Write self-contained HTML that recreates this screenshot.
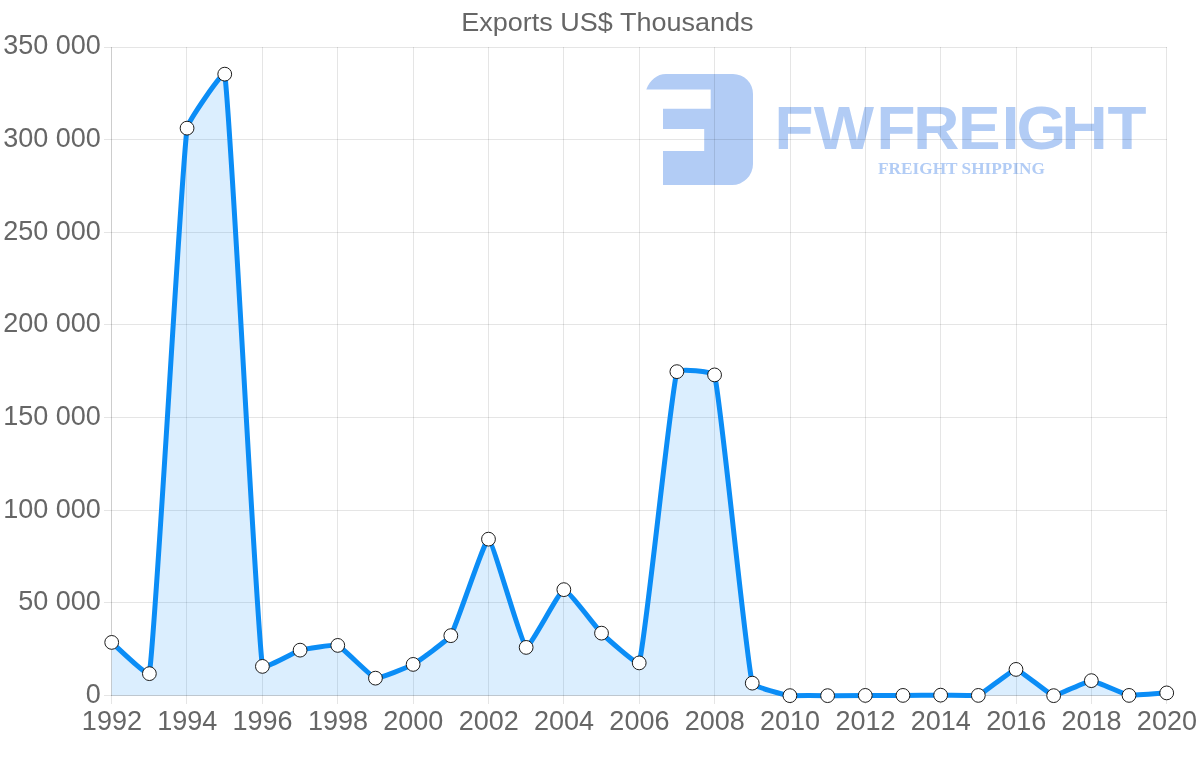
<!DOCTYPE html>
<html lang="en"><head><meta charset="utf-8"><title>Exports US$ Thousands</title>
<style>
html,body{margin:0;padding:0;background:#fff}
body{width:1200px;height:763px;overflow:hidden}
svg{display:block}
text{font-family:"Liberation Sans",Arial,Helvetica,sans-serif;fill:#666}
.wm{font-family:"Liberation Sans",Arial,sans-serif;font-weight:700;fill:#b2ccf5}
.wms{font-family:"Liberation Serif","Times New Roman",serif;font-weight:700;fill:#b2ccf5}
</style></head><body>
<svg width="1200" height="763" viewBox="0 0 1200 763">
<rect width="1200" height="763" fill="#fff"/>
<g id="wm" opacity="1">
<path fill="#b2ccf5" d="M646.3,89.4 C650,80 657,74 666,74 L733,74 A20,20 0 0 1 753,94 L753,164 A21,21 0 0 1 732,185 L663,185 L663,151 L704.2,151 L704.2,129 L663,129 L663,108.8 L710.7,108.8 L710.7,89.4 Z"/>
<text class="wm" transform="scale(1.03,1)" x="752 789.99 850.99 886.62 930.14 972.53 986.97 1030.64 1075.31" y="149.2" font-size="62">FWFREIGHT</text>
<text class="wms" x="878" y="174.3" font-size="17" textLength="167" lengthAdjust="spacingAndGlyphs">FREIGHT SHIPPING</text>
</g>
<g stroke="rgba(0,0,0,0.1)" stroke-width="1" shape-rendering="crispEdges"><line x1="103.5" y1="695.5" x2="1167" y2="695.5"/><line x1="103.5" y1="602.5" x2="1167" y2="602.5"/><line x1="103.5" y1="510.5" x2="1167" y2="510.5"/><line x1="103.5" y1="417.5" x2="1167" y2="417.5"/><line x1="103.5" y1="324.5" x2="1167" y2="324.5"/><line x1="103.5" y1="232.5" x2="1167" y2="232.5"/><line x1="103.5" y1="139.5" x2="1167" y2="139.5"/><line x1="103.5" y1="47.5" x2="1167" y2="47.5"/><line x1="111.5" y1="47" x2="111.5" y2="696"/><line x1="111" y1="695.5" x2="1167" y2="695.5"/></g>
<g stroke="rgba(0,0,0,0.1)" stroke-width="1" shape-rendering="crispEdges"><line x1="111.5" y1="47" x2="111.5" y2="703.7"/><line x1="186.5" y1="47" x2="186.5" y2="703.7"/><line x1="262.5" y1="47" x2="262.5" y2="703.7"/><line x1="337.5" y1="47" x2="337.5" y2="703.7"/><line x1="413.5" y1="47" x2="413.5" y2="703.7"/><line x1="488.5" y1="47" x2="488.5" y2="703.7"/><line x1="563.5" y1="47" x2="563.5" y2="703.7"/><line x1="639.5" y1="47" x2="639.5" y2="703.7"/><line x1="714.5" y1="47" x2="714.5" y2="703.7"/><line x1="790.5" y1="47" x2="790.5" y2="703.7"/><line x1="865.5" y1="47" x2="865.5" y2="703.7"/><line x1="940.5" y1="47" x2="940.5" y2="703.7"/><line x1="1016.5" y1="47" x2="1016.5" y2="703.7"/><line x1="1091.5" y1="47" x2="1091.5" y2="703.7"/><line x1="1166.5" y1="47" x2="1166.5" y2="703.7"/></g>
<path d="M111.7,642.4 C115.47,645.52 148.76,677.88 149.38,673.65 C156.3,626.45 180.33,181.66 187.06,128.15 C187.87,121.71 223.98,68.77 224.74,74.15 C231.52,122.6 255.37,612.53 262.41,666.4 C262.9,670.13 296.18,651.24 300.09,650.15 C303.71,649.14 334.52,644.19 337.77,645.4 C342.05,646.99 371.27,677.1 375.45,678.15 C378.81,679 409.67,666.35 413.13,664.4 C417.21,662.1 448.44,639.58 450.81,635.65 C455.98,627.06 484.91,538.59 488.49,539.15 C492.44,539.77 521.46,644.25 526.16,647.4 C528.99,649.3 559.74,590.43 563.84,589.65 C567.27,589 597.41,629.16 601.52,633.15 C604.95,636.48 638.14,666.57 639.2,662.9 C645.68,640.42 670.2,397.16 676.88,371.65 C677.74,368.36 713.74,371.52 714.56,374.9 C721.27,402.67 745.55,654.71 752.24,683.15 C753.09,686.79 786.05,695.01 789.91,695.65 C793.58,695.5 823.83,695.5 827.59,695.65 C831.36,695.5 861.5,695.41 865.27,695.4 C869.04,695.39 899.18,695.41 902.95,695.4 C906.72,695.39 936.86,695.15 940.63,695.15 C944.4,695.15 974.9,695.5 978.31,695.4 C982.44,693.99 1012.22,669.39 1015.99,669.4 C1019.76,669.41 1049.66,695.05 1053.66,695.65 C1057.2,695.5 1087.57,680.66 1091.34,680.65 C1095.11,680.64 1125.12,694.77 1129.02,695.4 C1132.66,695.5 1162.93,693.15 1166.7,692.9 L1166.7,695.5 L111.7,695.5 Z" fill="rgba(11,141,246,0.15)"/>
<path d="M111.7,642.4 C115.47,645.52 148.76,677.88 149.38,673.65 C156.3,626.45 180.33,181.66 187.06,128.15 C187.87,121.71 223.98,68.77 224.74,74.15 C231.52,122.6 255.37,612.53 262.41,666.4 C262.9,670.13 296.18,651.24 300.09,650.15 C303.71,649.14 334.52,644.19 337.77,645.4 C342.05,646.99 371.27,677.1 375.45,678.15 C378.81,679 409.67,666.35 413.13,664.4 C417.21,662.1 448.44,639.58 450.81,635.65 C455.98,627.06 484.91,538.59 488.49,539.15 C492.44,539.77 521.46,644.25 526.16,647.4 C528.99,649.3 559.74,590.43 563.84,589.65 C567.27,589 597.41,629.16 601.52,633.15 C604.95,636.48 638.14,666.57 639.2,662.9 C645.68,640.42 670.2,397.16 676.88,371.65 C677.74,368.36 713.74,371.52 714.56,374.9 C721.27,402.67 745.55,654.71 752.24,683.15 C753.09,686.79 786.05,695.01 789.91,695.65 C793.58,695.5 823.83,695.5 827.59,695.65 C831.36,695.5 861.5,695.41 865.27,695.4 C869.04,695.39 899.18,695.41 902.95,695.4 C906.72,695.39 936.86,695.15 940.63,695.15 C944.4,695.15 974.9,695.5 978.31,695.4 C982.44,693.99 1012.22,669.39 1015.99,669.4 C1019.76,669.41 1049.66,695.05 1053.66,695.65 C1057.2,695.5 1087.57,680.66 1091.34,680.65 C1095.11,680.64 1125.12,694.77 1129.02,695.4 C1132.66,695.5 1162.93,693.15 1166.7,692.9" fill="none" stroke="#0B8DF6" stroke-width="5" stroke-linejoin="miter" stroke-linecap="butt"/>
<g fill="#fff" stroke="#1c1c1c" stroke-width="1"><circle cx="111.7" cy="642.4" r="6.9"/><circle cx="149.38" cy="673.65" r="6.9"/><circle cx="187.06" cy="128.15" r="6.9"/><circle cx="224.74" cy="74.15" r="6.9"/><circle cx="262.41" cy="666.4" r="6.9"/><circle cx="300.09" cy="650.15" r="6.9"/><circle cx="337.77" cy="645.4" r="6.9"/><circle cx="375.45" cy="678.15" r="6.9"/><circle cx="413.13" cy="664.4" r="6.9"/><circle cx="450.81" cy="635.65" r="6.9"/><circle cx="488.49" cy="539.15" r="6.9"/><circle cx="526.16" cy="647.4" r="6.9"/><circle cx="563.84" cy="589.65" r="6.9"/><circle cx="601.52" cy="633.15" r="6.9"/><circle cx="639.2" cy="662.9" r="6.9"/><circle cx="676.88" cy="371.65" r="6.9"/><circle cx="714.56" cy="374.9" r="6.9"/><circle cx="752.24" cy="683.15" r="6.9"/><circle cx="789.91" cy="695.65" r="6.9"/><circle cx="827.59" cy="695.65" r="6.9"/><circle cx="865.27" cy="695.4" r="6.9"/><circle cx="902.95" cy="695.4" r="6.9"/><circle cx="940.63" cy="695.15" r="6.9"/><circle cx="978.31" cy="695.4" r="6.9"/><circle cx="1015.99" cy="669.4" r="6.9"/><circle cx="1053.66" cy="695.65" r="6.9"/><circle cx="1091.34" cy="680.65" r="6.9"/><circle cx="1129.02" cy="695.4" r="6.9"/><circle cx="1166.7" cy="692.9" r="6.9"/></g>
<text x="607.4" y="30.5" font-size="26.4" text-anchor="middle" textLength="292.4" lengthAdjust="spacingAndGlyphs" id="title">Exports US$ Thousands</text>
<text class="yl" x="100.8" y="702.7" font-size="27" text-anchor="end">0</text>
<text class="yl" x="100.8" y="609.6" font-size="27" text-anchor="end">50 000</text>
<text class="yl" x="100.8" y="517.6" font-size="27" text-anchor="end">100 000</text>
<text class="yl" x="100.8" y="424.6" font-size="27" text-anchor="end">150 000</text>
<text class="yl" x="100.8" y="331.6" font-size="27" text-anchor="end">200 000</text>
<text class="yl" x="100.8" y="239.6" font-size="27" text-anchor="end">250 000</text>
<text class="yl" x="100.8" y="146.6" font-size="27" text-anchor="end">300 000</text>
<text class="yl" x="100.8" y="53.9" font-size="27" text-anchor="end">350 000</text>
<text class="xl" x="111.9" y="729.9" font-size="27" text-anchor="middle">1992</text>
<text class="xl" x="187.26" y="729.9" font-size="27" text-anchor="middle">1994</text>
<text class="xl" x="262.61" y="729.9" font-size="27" text-anchor="middle">1996</text>
<text class="xl" x="337.97" y="729.9" font-size="27" text-anchor="middle">1998</text>
<text class="xl" x="413.33" y="729.9" font-size="27" text-anchor="middle">2000</text>
<text class="xl" x="488.69" y="729.9" font-size="27" text-anchor="middle">2002</text>
<text class="xl" x="564.04" y="729.9" font-size="27" text-anchor="middle">2004</text>
<text class="xl" x="639.4" y="729.9" font-size="27" text-anchor="middle">2006</text>
<text class="xl" x="714.76" y="729.9" font-size="27" text-anchor="middle">2008</text>
<text class="xl" x="790.11" y="729.9" font-size="27" text-anchor="middle">2010</text>
<text class="xl" x="865.47" y="729.9" font-size="27" text-anchor="middle">2012</text>
<text class="xl" x="940.83" y="729.9" font-size="27" text-anchor="middle">2014</text>
<text class="xl" x="1016.19" y="729.9" font-size="27" text-anchor="middle">2016</text>
<text class="xl" x="1091.54" y="729.9" font-size="27" text-anchor="middle">2018</text>
<text class="xl" x="1166.9" y="729.9" font-size="27" text-anchor="middle">2020</text>
</svg>
</body></html>
